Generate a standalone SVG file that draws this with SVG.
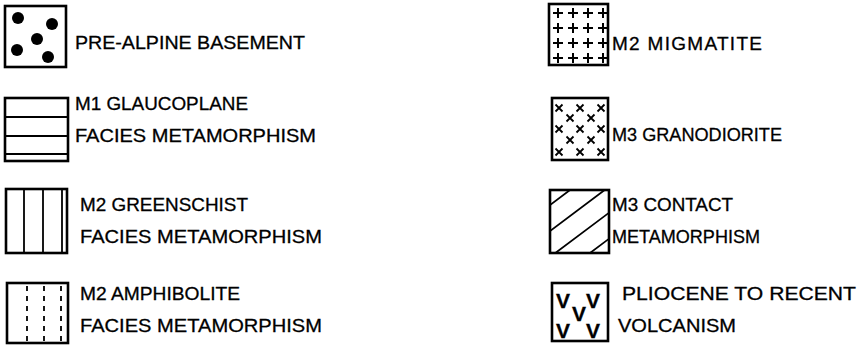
<svg xmlns="http://www.w3.org/2000/svg" width="868" height="345" viewBox="0 0 868 345">
<defs>
<style>
text{font-family:"Liberation Sans",Arial,sans-serif;font-size:19px;fill:#000;stroke:#000;stroke-width:0.3}
.box{fill:#fff;stroke:#000;stroke-width:2.6}
.ln{stroke:#000;stroke-width:1.8;fill:none}
.dash{stroke:#000;stroke-width:1.8;fill:none;stroke-dasharray:5 5}
.dot{fill:#000}
.v{font-weight:bold;font-size:21px}
</style>
<clipPath id="c7"><rect x="550" y="190" width="59" height="63"/></clipPath>
<g id="plus"><path d="M-5 0H5M0 -5V5" stroke="#000" stroke-width="2"/></g>
<g id="cross"><path d="M-3.5 -3.5L3.5 3.5M-3.5 3.5L3.5 -3.5" stroke="#000" stroke-width="1.8"/></g>
</defs>
<rect width="868" height="345" fill="#fff"/>

<g id="pre-alpine">
<rect class="box" x="5" y="6" width="61" height="61"/>
<circle class="dot" cx="18" cy="18" r="6"/>
<circle class="dot" cx="52" cy="24" r="6"/>
<circle class="dot" cx="37" cy="39" r="6"/>
<circle class="dot" cx="17" cy="50" r="6"/>
<circle class="dot" cx="48" cy="57" r="6"/>
<text x="75" y="49" textLength="230" lengthAdjust="spacingAndGlyphs">PRE-ALPINE BASEMENT</text>
</g>

<g id="m1-glaucophane">
<rect class="box" x="5" y="98" width="63" height="63"/>
<path class="ln" d="M5 117H68M5 136H68M5 154H68"/>
<text x="75" y="110" textLength="173" lengthAdjust="spacingAndGlyphs">M1 GLAUCOPLANE</text>
<text x="75" y="142" textLength="241" lengthAdjust="spacingAndGlyphs">FACIES METAMORPHISM</text>
</g>

<g id="m2-greenschist">
<rect class="box" x="6" y="189" width="61" height="64"/>
<path class="ln" d="M24 189V253M43 189V253M62 189V253"/>
<text x="80" y="211" textLength="168" lengthAdjust="spacingAndGlyphs">M2 GREENSCHIST</text>
<text x="80" y="243" textLength="242" lengthAdjust="spacingAndGlyphs">FACIES METAMORPHISM</text>
</g>

<g id="m2-amphibolite">
<rect class="box" x="7" y="283" width="61" height="60"/>
<path class="dash" d="M27 286V343M44 286V343M61 286V343"/>
<text x="80" y="300" textLength="160" lengthAdjust="spacingAndGlyphs">M2 AMPHIBOLITE</text>
<text x="80" y="332" textLength="242" lengthAdjust="spacingAndGlyphs">FACIES METAMORPHISM</text>
</g>

<g id="m2-migmatite">
<rect class="box" x="549" y="4" width="59" height="61"/>
<use href="#plus" x="558" y="13"/><use href="#plus" x="573" y="13"/><use href="#plus" x="588" y="13"/><use href="#plus" x="603" y="13"/>
<use href="#plus" x="558" y="28"/><use href="#plus" x="573" y="28"/><use href="#plus" x="588" y="28"/><use href="#plus" x="603" y="28"/>
<use href="#plus" x="558" y="43"/><use href="#plus" x="573" y="43"/><use href="#plus" x="588" y="43"/><use href="#plus" x="603" y="43"/>
<use href="#plus" x="558" y="58"/><use href="#plus" x="573" y="58"/><use href="#plus" x="588" y="58"/><use href="#plus" x="603" y="58"/>
<text x="612" y="50" textLength="150" lengthAdjust="spacing">M2 MIGMATITE</text>
</g>

<g id="m3-granodiorite">
<rect class="box" x="552" y="98" width="56" height="62"/>
<use href="#cross" x="559" y="108"/><use href="#cross" x="580" y="108"/><use href="#cross" x="601" y="108"/>
<use href="#cross" x="570" y="118"/><use href="#cross" x="591" y="118"/>
<use href="#cross" x="559" y="129"/><use href="#cross" x="580" y="129"/><use href="#cross" x="601" y="129"/>
<use href="#cross" x="570" y="140"/><use href="#cross" x="591" y="140"/>
<use href="#cross" x="559" y="152"/><use href="#cross" x="580" y="152"/><use href="#cross" x="601" y="152"/>
<text x="612" y="141" textLength="170" lengthAdjust="spacingAndGlyphs">M3 GRANODIORITE</text>
</g>

<g id="m3-contact">
<rect class="box" x="550" y="190" width="59" height="63"/>
<g clip-path="url(#c7)">
<path class="ln" d="M550 205L620 152.5M550 231L620 178.5M550 257L620 204.5M550 283L620 230.5"/>
</g>
<text x="612" y="211" textLength="121" lengthAdjust="spacingAndGlyphs">M3 CONTACT</text>
<text x="612" y="243" textLength="148" lengthAdjust="spacingAndGlyphs">METAMORPHISM</text>
</g>

<g id="pliocene-volcanism">
<rect class="box" x="552" y="283" width="56" height="58"/>
<text class="v" x="563" y="308" text-anchor="middle">V</text>
<text class="v" x="593" y="308" text-anchor="middle">V</text>
<text class="v" x="579" y="321" text-anchor="middle">V</text>
<text class="v" x="563" y="338" text-anchor="middle">V</text>
<text class="v" x="593" y="338" text-anchor="middle">V</text>
<text x="622" y="300" textLength="234" lengthAdjust="spacingAndGlyphs">PLIOCENE TO RECENT</text>
<text x="618" y="332" textLength="118" lengthAdjust="spacingAndGlyphs">VOLCANISM</text>
</g>
</svg>
